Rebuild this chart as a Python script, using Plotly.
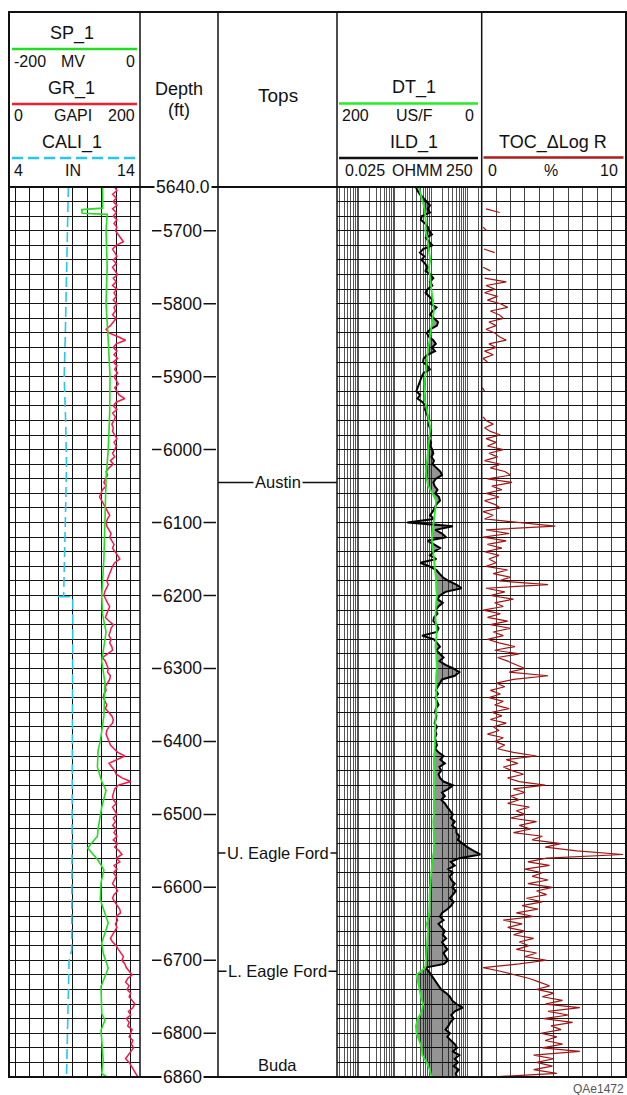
import math
import numpy as np
import plotly.graph_objects as go

# ---------------------------------------------------------------- page geometry
W, H = 627, 1095
FONT = "Liberation Sans, Arial, sans-serif"
LOG_TOP_PX, LOG_BOT_PX = 187, 1077          # top / bottom of the log body
FRAME_TOP_PX, FRAME_L_PX, FRAME_R_PX = 12, 9, 626
T1 = (9, 140)        # SP / GR / CALI track
TD = (140, 218)      # depth track
TT = (218, 337)      # formation tops track
T3 = (337, 481.7)    # DT / ILD track
T4 = (481.7, 626)    # TOC track

# ---------------------------------------------------------------- data
DEPTH_TOP, DEPTH_BASE, STEP = 5640, 6860, 5   # ft, sampling of GR / ILD / TOC

GR_1 = [  # GAPI
    158, 161, 155, 160, 156, 161, 155, 160, 156, 161,   # 5640
    157, 161, 159, 163, 166, 170, 160, 155, 158, 161,   # 5690
    156, 160, 155, 159, 162, 156, 160, 155, 161, 157,   # 5740
    160, 156, 161, 157, 159, 155, 160, 156, 152, 146,   # 5790
    150, 162, 173, 160, 156, 161, 157, 162, 156, 161,   # 5840
    158, 162, 157, 160, 163, 158, 161, 164, 172, 160,   # 5890
    156, 161, 155, 159, 157, 154, 156, 155, 158, 161,   # 5940
    157, 160, 158, 155, 158, 152, 156, 150, 146, 148,   # 5990
    145, 143, 146, 141, 139, 137, 140, 143, 146, 148,   # 6040
    151, 148, 146, 147, 150, 153, 151, 154, 157, 155,   # 6090
    159, 162, 165, 158, 155, 153, 150, 148, 147, 149,   # 6140
    146, 144, 143, 145, 148, 151, 149, 146, 145, 150,   # 6190
    156, 153, 152, 150, 153, 151, 154, 155, 148, 141,   # 6240
    145, 147, 149, 148, 152, 151, 148, 145, 146, 143,   # 6290
    142, 144, 147, 145, 150, 154, 156, 155, 150, 147,   # 6340
    146, 148, 150, 152, 157, 162, 172, 160, 150, 154,   # 6390
    158, 160, 168, 180, 163, 158, 156, 155, 156, 160,   # 6440
    155, 158, 161, 156, 159, 155, 160, 157, 161, 156,   # 6490
    162, 158, 164, 168, 160, 165, 157, 161, 156, 160,   # 6540
    158, 155, 159, 162, 157, 155, 158, 161, 165, 166,   # 6590
    160, 162, 159, 161, 158, 154, 152, 155, 160, 163,   # 6640
    166, 170, 168, 172, 174, 178, 182, 176, 173, 178,   # 6690
    175, 180, 178, 182, 186, 183, 177, 180, 174, 178,   # 6740
    176, 182, 180, 178, 183, 181, 184, 180, 176, 173,   # 6790
    178, 181, 183, 186, 190,                            # 6840
]

ILD_1 = [  # ohm-m
    3.8, 4.2, 4.9, 6.2, 7.5, 9.3, 8.0, 9.3, 5.5, 5.2,          # 5640
    6.8, 8.2, 8.8, 10.5, 7.2, 9.0, 10.8, 6.0, 4.9, 6.5,        # 5690
    5.4, 6.8, 7.9, 7.0, 9.5, 11.5, 9.3, 10.8, 8.0, 7.0,        # 5740
    9.0, 11.0, 9.5, 14.0, 11.0, 9.3, 12.0, 15.5, 14.5, 9.5,    # 5790
    7.6, 8.5, 11.5, 13.5, 10.5, 12.8, 8.0, 6.2, 6.0, 7.8,      # 5840
    9.3, 6.2, 5.5, 5.0, 4.6, 4.3, 3.9, 5.0, 4.2, 5.8,          # 5890
    7.0, 6.8, 7.5, 8.2, 9.0, 8.5, 9.3, 10.0, 9.5, 8.8,         # 5940
    10.0, 9.5, 10.8, 11.5, 10.2, 12.0, 11.0, 14.5, 18.0, 20.0, # 5990
    13.5, 11.5, 12.5, 15.0, 13.0, 16.5, 17.6, 14.0, 12.5, 11.0,  # 6040
    9.3, 12.0, 2.2, 40.0, 13.0, 20.0, 26.0, 8.0, 12.0, 17.6,   # 6090
    12.0, 9.3, 14.0, 5.0, 9.0, 14.0, 17.0, 21.0, 30.0, 50.0,   # 6140
    70.0, 25.0, 17.6, 15.0, 21.0, 16.0, 13.5, 15.0, 12.0, 11.5,  # 6190
    14.0, 16.0, 14.5, 5.6, 12.0, 15.0, 17.6, 14.0, 18.0, 22.0,   # 6240
    17.0, 25.0, 41.0, 60.0, 45.0, 20.0, 17.6, 15.0, 13.5, 15.5,  # 6290
    13.0, 14.5, 16.0, 13.5, 12.8, 14.0, 13.0, 12.5, 14.5, 13.0,  # 6340
    14.0, 12.8, 13.5, 14.5, 13.0, 16.0, 22.0, 18.0, 24.0, 17.0,  # 6390
    19.0, 16.0, 17.6, 22.0, 40.0, 30.0, 20.0, 24.0, 19.0, 24.0,  # 6440
    28.0, 33.0, 40.0, 35.0, 45.0, 38.0, 50.0, 50.0, 60.0, 55.0,  # 6490
    75.0, 100.0, 150.0, 230.0, 60.0, 35.0, 45.0, 30.0, 40.0, 33.0,  # 6540
    36.0, 45.0, 38.0, 48.0, 40.0, 33.0, 42.0, 36.0, 28.0, 20.0,  # 6590
    17.6, 22.0, 16.0, 20.0, 24.0, 21.0, 26.0, 20.0, 24.0, 28.0,  # 6640
    22.0, 26.0, 29.0, 23.0, 7.0, 8.5, 10.0, 12.0, 14.0, 16.0,    # 6690
    19.0, 26.0, 33.0, 38.0, 50.0, 75.0, 45.0, 36.0, 42.0, 34.0,  # 6740
    30.0, 25.0, 33.0, 28.0, 36.0, 45.0, 52.0, 40.0, 60.0, 45.0,  # 6790
    55.0, 42.0, 58.0, 48.0, 52.0,                                # 6840
]

N = None
TOC_DLOGR = [  # wt %, gaps where no estimate
    N, N, N, N, N, N, 0.3, 1.25, N, N,                     # 5640
    N, 0.1, 0.35, N, N, N, N, 0.15, 0.9, N,                # 5690
    N, N, 0.1, 0.6, N, 0.2, 1.7, 0.3, 0.9, 0.2,            # 5740
    1.1, 0.4, 1.3, 1.8, 0.6, 1.2, 1.5, 0.5, 1.0, 0.3,      # 5790
    0.9, 1.2, 1.7, 0.5, 1.0, 0.2, 0.8, 0.1, 0.4, N,        # 5840
    N, N, N, N, N, 0.05, 0.2, N, N, N,                     # 5890
    N, N, N, 0.1, 0.3, 0.8, 0.2, 0.6, 1.3, 0.3,            # 5940
    1.0, 0.4, 1.5, 0.5, 1.1, 0.2, 1.3, 0.6, 1.6, 2.0,      # 5990
    0.4, 2.1, 0.7, 1.4, 0.3, 1.2, 0.2, 0.9, 1.3, 0.1,      # 6040
    0.8, 0.2, 2.8, 5.1, 0.3, 1.9, 0.1, 1.7, 0.4, 1.4,      # 6090
    0.2, 1.2, 0.5, 1.0, 0.3, 1.8, 0.8, 2.0, 1.2, 4.6,      # 6140
    0.3, 1.6, 0.6, 2.2, 0.9, 1.5, 0.1, 1.3, 0.4, 1.8,      # 6190
    0.6, 2.0, 0.8, 1.5, 0.4, 1.2, 2.3, 0.9, 2.6, 1.1,      # 6240
    1.8, 2.4, 3.0, 1.9, 4.6, 2.2, 1.0, 1.6, 0.6, 1.3,      # 6290
    0.5, 1.5, 0.9, 1.9, 0.7, 1.4, 0.6, 1.7, 0.8, 1.2,      # 6340
    0.4, 1.5, 0.9, 1.6, 1.1, 2.2, 3.8, 1.7, 2.5, 1.5,      # 6390
    2.1, 2.9, 1.8, 2.6, 4.4, 2.2, 3.0, 2.0, 2.6, 1.8,      # 6440
    3.3, 2.4, 3.0, 2.0, 3.8, 2.6, 3.4, 2.2, 4.2, 3.5,      # 6490
    5.5, 4.4, 6.6, 9.8, 4.5, 3.2, 4.7, 3.0, 4.2, 3.5,      # 6540
    4.6, 3.2, 4.9, 3.8, 4.5, 3.1, 4.2, 2.8, 3.9, 2.4,      # 6590
    3.6, 1.5, 2.8, 1.8, 3.0, 2.2, 3.6, 2.6, 3.3, 2.4,      # 6640
    3.8, 3.0, 4.5, 2.6, 0.1, 1.3, 2.4, 3.3, 4.0, 4.7,      # 6690
    3.8, 5.0, 4.2, 5.6, 4.4, 6.8, 4.6, 6.0, 4.3, 6.3,      # 6740
    4.8, 5.5, 4.1, 5.2, 4.4, 5.6, 4.2, 6.8, 3.6, 5.0,      # 6790
    3.8, 4.9, 3.6, 5.2, 0.6,                               # 6840
]

DT_STEP = 10
DT_1 = [  # us/ft, every 10 ft
    87, 84, 81, 79, 78, 77, 78, 75, 74, 72,   # 5640
    71, 73, 72, 71, 70, 68, 67, 66, 68, 69,   # 5740
    71, 72, 74, 75, 77, 78, 78, 79, 78, 79,   # 5840
    77, 75, 73, 71, 72, 73, 75, 76, 77, 77,   # 5940
    76, 74, 68, 63, 64, 65, 67, 68, 69, 68,   # 6040
    67, 66, 65, 64, 63, 63, 62, 63, 64, 64,   # 6140
    63, 62, 63, 64, 63, 62, 62, 63, 63, 62,   # 6240
    62, 63, 63, 64, 64, 64, 64, 65, 66, 66,   # 6340
    65, 65, 65, 66, 66, 66, 66, 67, 66, 66,   # 6440
    66, 66, 68, 69, 70, 71, 71, 72, 72, 73,   # 6540
    73, 76, 74, 75, 76, 76, 77, 78, 90, 88,   # 6640
    87, 84, 81, 83, 88, 91, 90, 86, 83, 82,   # 6740
    76, 72, 69,                               # 6840
]

SP_DEPTH = [5640, 5669, 5671, 5676, 5677.5, 5700, 5750, 5800, 5850, 5900, 5950,
            6000, 6040, 6100, 6150, 6200, 6225, 6250, 6290, 6320, 6365, 6400,
            6412, 6435, 6455, 6467, 6490, 6520, 6530, 6546, 6563, 6576, 6594,
            6617, 6649, 6676, 6690, 6711, 6736, 6773, 6782, 6796, 6820, 6837,
            6855, 6860]
SP_1 = [-58.7, -58.7, -87.7, -87.0, -52.5, -54.0, -52.5, -54.0, -51.0, -48.5, -49.0,
        -51.0, -54.0, -56.0, -57.0, -60.0, -59.0, -54.0, -60.0, -55.5, -57.0, -62.0,
        -65.0, -66.0, -60.0, -54.0, -60.0, -65.0, -66.0, -79.5, -65.0, -57.0, -61.0,
        -62.0, -51.0, -60.0, -58.0, -51.0, -61.0, -60.0, -55.5, -61.0, -59.0, -58.0,
        -60.0, -53.0]

CALI_DEPTH = [5640, 5680, 5720, 5780, 5840, 5900, 5960, 6020, 6080, 6140, 6201,
              6201.5, 6201.6, 6260, 6340, 6420, 6500, 6580, 6660, 6686, 6700,
              6760, 6820, 6860]
CALI_1 = [8.69, 8.66, 8.62, 8.54, 8.48, 8.40, 8.50, 8.56, 8.50, 8.42, 8.36,
          7.88, 8.99, 8.99, 8.98, 8.98, 8.97, 8.96, 8.94, 8.92, 8.74,
          8.68, 8.62, 8.56]

TOP_NAMES = ["Austin", "U. Eagle Ford", "L. Eagle Ford", "Buda"]
TOP_DEPTHS = [6045, 6553, 6715, 6860]

DEPTH_TICKS = [5640, 5700, 5800, 5900, 6000, 6100, 6200, 6300, 6400, 6500,
               6600, 6700, 6800, 6860]
DEPTH_TICK_TEXT = ["5640.0", "5700", "5800", "5900", "6000", "6100", "6200",
                   "6300", "6400", "6500", "6600", "6700", "6800", "6860"]

# ---------------------------------------------------------------- scales
GR_RANGE = [11.55, 193.0]                        # 20 GAPI per grid division
SP_RANGE = [GR_RANGE[0] - 200, GR_RANGE[1] - 200]
CALI_RANGE = [4 + GR_RANGE[0] / 20, 4 + GR_RANGE[1] / 20]
ILD_MIN, ILD_MAX = 0.025, 250.0
DT_LEFT, DT_RIGHT = 200, 0

depth = DEPTH_TOP + STEP * np.arange(len(GR_1))
dt_depth = DEPTH_TOP + DT_STEP * np.arange(len(DT_1))

# DT expressed on the ILD log scale, used for the DT/ILD separation shading
dt_at = np.interp(depth, dt_depth, DT_1)
dt_as_ild = ILD_MIN * 10 ** ((DT_LEFT - dt_at) / (DT_LEFT - DT_RIGHT) * 4)
sep_edge = np.maximum(np.array(ILD_1, dtype=float), dt_as_ild)


def px(x):
    return x / W


def py(y):
    return 1 - y / H


fig = go.Figure()

# shaded separation between DT and ILD
fig.add_trace(go.Scatter(x=dt_as_ild, y=depth, xaxis="x4", yaxis="y2", mode="lines",
                         line=dict(width=0, color="rgba(0,0,0,0)"), hoverinfo="skip"))
fig.add_trace(go.Scatter(x=sep_edge, y=depth, xaxis="x4", yaxis="y2", mode="lines",
                         line=dict(width=0, color="rgba(0,0,0,0)"), fill="tonextx",
                         fillcolor="rgba(0,0,0,0.42)", hoverinfo="skip"))
# ILD and DT
fig.add_trace(go.Scatter(x=ILD_1, y=depth, xaxis="x4", yaxis="y2", mode="lines",
                         line=dict(color="#000000", width=2), name="ILD_1"))
fig.add_trace(go.Scatter(x=DT_1, y=dt_depth, xaxis="x5", yaxis="y2", mode="lines",
                         line=dict(color="#22ee22", width=1.8), name="DT_1"))
# track 1 curves
fig.add_trace(go.Scatter(x=CALI_1, y=CALI_DEPTH, xaxis="x3", yaxis="y", mode="lines",
                         line=dict(color="#27c6ef", width=1.6, dash="10px,5px"), name="CALI_1"))
fig.add_trace(go.Scatter(x=SP_1, y=SP_DEPTH, xaxis="x2", yaxis="y", mode="lines",
                         line=dict(color="#22dd22", width=1.6), name="SP_1"))
fig.add_trace(go.Scatter(x=GR_1, y=depth, xaxis="x", yaxis="y", mode="lines",
                         line=dict(color="#f5194a", width=1.5), name="GR_1"))
# TOC
fig.add_trace(go.Scatter(x=TOC_DLOGR, y=depth, xaxis="x6", yaxis="y3", mode="lines",
                         connectgaps=False, line=dict(color="#a31515", width=1.2),
                         name="TOC"))

ydom = [py(LOG_BOT_PX), py(LOG_TOP_PX)]
ycommon = dict(domain=ydom, range=[DEPTH_BASE, DEPTH_TOP], tick0=DEPTH_TOP, dtick=20,
               showgrid=True, gridcolor="#151515", gridwidth=1, showticklabels=False,
               ticks="", zeroline=False, showline=False)
hidden = dict(visible=False, showgrid=False, zeroline=False)

layout = dict(
    width=W, height=H, margin=dict(l=0, r=0, t=0, b=0),
    paper_bgcolor="white", plot_bgcolor="white", showlegend=False,
    font=dict(family=FONT, color="#111111"),
    yaxis=dict(anchor="x", **ycommon),
    yaxis2=dict(anchor="x4", **ycommon),
    yaxis3=dict(anchor="x6", **ycommon),
    xaxis=dict(domain=[px(T1[0]), px(T1[1])], range=GR_RANGE, tick0=0, dtick=20,
               showgrid=True, gridcolor="#111111", gridwidth=1, showticklabels=False,
               ticks="", zeroline=False, anchor="y"),
    xaxis2=dict(overlaying="x", anchor="y", range=SP_RANGE, **hidden),
    xaxis3=dict(overlaying="x", anchor="y", range=CALI_RANGE, **hidden),
    xaxis4=dict(domain=[px(T3[0]), px(T3[1])], type="log",
                range=[math.log10(ILD_MIN), math.log10(ILD_MAX)], dtick="D1",
                showgrid=True, gridcolor="#555555", gridwidth=1, showticklabels=False,
                ticks="", zeroline=False, anchor="y2"),
    xaxis5=dict(overlaying="x4", anchor="y2", range=[DT_LEFT, DT_RIGHT], **hidden),
    xaxis6=dict(domain=[px(T4[0]), px(T4[1])], range=[0, 10], tick0=0, dtick=1,
                showgrid=True, gridcolor="#444444", gridwidth=1, showticklabels=False,
                ticks="", zeroline=False, anchor="y3"),
)

shapes = []
annotations = []


def pline(x0, y0, x1, y1, color="#111111", width=1.5, dash=None):
    ln = dict(color=color, width=width)
    if dash:
        ln["dash"] = dash
    shapes.append(dict(type="line", xref="paper", yref="paper", x0=px(x0), x1=px(x1),
                       y0=py(y0), y1=py(y1), line=ln, layer="above"))


def text(t, x, y, size, anchor="center", color="#111111", **kw):
    annotations.append(dict(text=t, x=px(x), y=py(y), xref="paper", yref="paper",
                            xanchor=anchor, yanchor="middle", showarrow=False,
                            font=dict(size=size, color=color, family=FONT), **kw))


# frame and track separators
shapes.append(dict(type="rect", xref="paper", yref="paper", x0=px(FRAME_L_PX),
                   x1=px(FRAME_R_PX), y0=py(LOG_BOT_PX), y1=py(FRAME_TOP_PX),
                   line=dict(color="#111111", width=2), layer="above"))
pline(FRAME_L_PX, LOG_TOP_PX, FRAME_R_PX, LOG_TOP_PX, width=2)
for xs in (T1[1], TD[1], TT[1], T3[1]):
    pline(xs, FRAME_TOP_PX, xs, LOG_BOT_PX, width=1.5)

# header: track 1
text("SP_1", 71.5, 33.5, 18)
pline(12, 49, 137, 49, color="#22dd22", width=2.5)
text("-200", 12, 61.5, 16, "left")
text("MV", 73, 61.5, 16)
text("0", 137, 61.5, 16, "right")
text("GR_1", 71.5, 88.5, 18)
pline(12, 104, 137, 104, color="#ee2030", width=2.5)
text("0", 12, 115.5, 16, "left")
text("GAPI", 72.5, 115.5, 16)
text("200", 137, 115.5, 16, "right")
text("CALI_1", 71.5, 143, 18)
pline(12, 158, 137, 158, color="#27c6ef", width=2.5, dash="11px,5px")
text("4", 12, 170, 16, "left")
text("IN", 72.5, 170, 16)
text("14", 137, 170, 16, "right")

# header: depth and tops
text("Depth", 179, 89, 18)
text("(ft)", 179, 110, 18)
text("Tops", 277.5, 96, 19)

# header: track 3
text("DT_1", 414, 87.5, 18)
pline(339, 103.5, 478, 103.5, color="#22ee22", width=2.5)
text("200", 339.5, 115.5, 16, "left")
text("US/F", 414, 115.5, 16)
text("0", 476, 115.5, 16, "right")
text("ILD_1", 414, 142, 18)
pline(339, 158, 478, 158, color="#111111", width=2.5)
text("0.025", 342.5, 170, 16, "left")
text("OHMM", 417, 170, 16)
text("250", 474.5, 170, 16, "right")

# header: track 4
text("TOC_\u0394Log R", 552.5, 142.5, 18)
pline(483.5, 157.5, 623.5, 157.5, color="#b01c1c", width=2.5)
text("0", 485.5, 170.5, 16, "left")
text("%", 551, 170.5, 16)
text("10", 619.5, 170.5, 16, "right")

text("QAe1472", 626, 1089, 12, "right", color="#555555")

# depth scale labels
for d, lab in zip(DEPTH_TICKS, DEPTH_TICK_TEXT):
    shapes.append(dict(type="line", xref="paper", yref="y", x0=px(152), x1=px(216),
                       y0=d, y1=d, line=dict(color="#111111", width=1.5), layer="above"))
    annotations.append(dict(text=lab, x=px(182.5), y=d, xref="paper", yref="y",
                            xanchor="center", yanchor="middle", showarrow=False,
                            bgcolor="white", borderpad=1,
                            font=dict(size=17.5, color="#111111", family=FONT)))

# formation tops
for name, d in zip(TOP_NAMES, TOP_DEPTHS):
    if d < DEPTH_BASE:
        shapes.append(dict(type="line", xref="paper", yref="y", x0=px(TT[0]),
                           x1=px(TT[1]), y0=d, y1=d,
                           line=dict(color="#111111", width=1.5), layer="above"))
        annotations.append(dict(text=name, x=px(277.5), y=d, xref="paper", yref="y",
                                xanchor="center", yanchor="middle", showarrow=False,
                                bgcolor="white", borderpad=1,
                                font=dict(size=16.5, color="#111111", family=FONT)))
    else:
        annotations.append(dict(text=name, x=px(277.5), y=d, xref="paper", yref="y",
                                xanchor="center", yanchor="bottom", showarrow=False,
                                yshift=1,
                                font=dict(size=16.5, color="#111111", family=FONT)))

layout["shapes"] = shapes
layout["annotations"] = annotations
fig.update_layout(**layout)

fig.write_html("out.html")
